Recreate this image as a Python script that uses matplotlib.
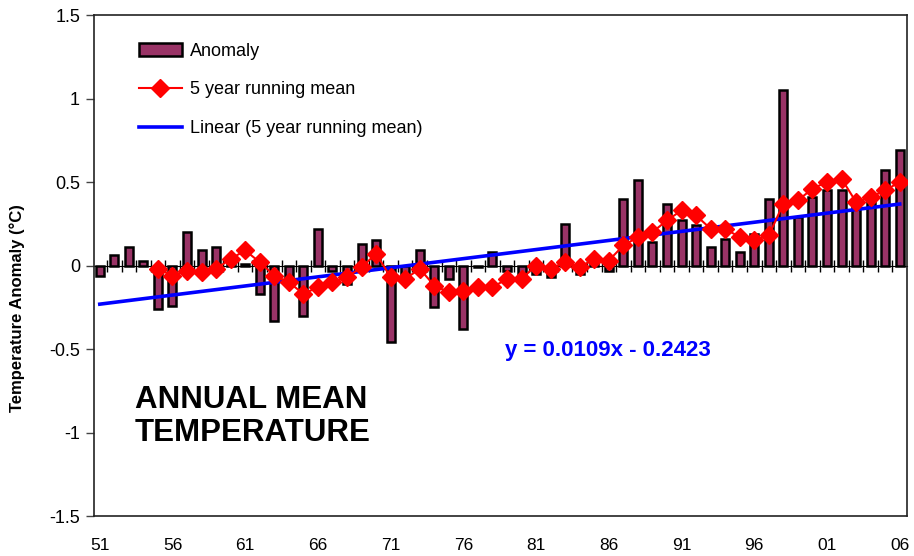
import matplotlib
matplotlib.use("Agg")
import matplotlib.pyplot as plt
import numpy as np

plt.rcParams['font.family'] = ['Liberation Sans', 'DejaVu Sans']

# years 1951 - 2006
years = np.arange(1951, 2007)

# annual temperature anomaly (degC)
anomaly = [-0.06, 0.06, 0.11, 0.03, -0.26, -0.24, 0.20, 0.09, 0.11, 0.02,
           0.01, -0.17, -0.33, -0.10, -0.30, 0.22, -0.03, -0.11, 0.13, 0.15,
           -0.46, -0.05, 0.09, -0.25, -0.08, -0.38, -0.01, 0.08, -0.03, -0.07,
           -0.05, -0.07, 0.25, -0.05, 0.02, -0.03, 0.40, 0.51, 0.14, 0.37,
           0.27, 0.24, 0.11, 0.16, 0.08, 0.19, 0.40, 1.05, 0.29, 0.41,
           0.45, 0.45, 0.39, 0.41, 0.57, 0.69]

# 5 year running mean, first value in 1955
mean_years = np.arange(1955, 2007)
running_mean = [-0.02, -0.06, -0.03, -0.04, -0.02, 0.04, 0.09, 0.02, -0.06, -0.10,
                -0.17, -0.13, -0.10, -0.07, -0.01, 0.07, -0.07, -0.08, -0.02, -0.12,
                -0.16, -0.15, -0.13, -0.13, -0.08, -0.08, 0.00, -0.02, 0.02, -0.01,
                0.04, 0.03, 0.12, 0.17, 0.20, 0.27, 0.33, 0.30, 0.22, 0.22,
                0.17, 0.15, 0.18, 0.37, 0.39, 0.46, 0.50, 0.52, 0.38, 0.41,
                0.45, 0.50]

# linear trend given on the chart (x = 1 for 1951)
slope = 0.0109
intercept = -0.2423

year_labels = ["51", "56", "61", "66", "71", "76", "81", "86", "91", "96", "01", "06"]

fig = plt.figure(figsize=(9.14, 5.56), dpi=100)
ax = fig.add_axes([0.1028, 0.0719, 0.8895, 0.9011])

bars = ax.bar(years, anomaly, width=0.55, color="#993366", edgecolor="black",
              linewidth=1.8, label="Anomaly", zorder=2)
mean_line, = ax.plot(mean_years, running_mean, color="red", lw=1.5, marker="D",
                     markersize=9, label="5 year running mean", zorder=4)
trend_x = np.arange(1, len(years) + 1)
trend_line, = ax.plot(years, slope * trend_x + intercept, color="#0000FF", lw=2.6,
                      label="Linear (5 year running mean)", zorder=3)

ax.set_xlim(1950.6, 2006.5)
ax.set_ylim(-1.5, 1.5)
ax.set_yticks([-1.5, -1, -0.5, 0, 0.5, 1, 1.5])
ax.set_yticklabels(["-1.5", "-1", "-0.5", "0", "0.5", "1", "1.5"], fontsize=13)
ax.tick_params(axis="y", length=6, width=1, pad=4, color="#444444")
ax.set_xticks(years[::5])
ax.set_xticklabels(year_labels, fontsize=12.5)
ax.tick_params(axis="x", length=0, pad=16)
for s in ax.spines.values():
    s.set_color("#222222")
    s.set_linewidth(1.2)

# category axis crossing at zero
zero_ax = ax.secondary_xaxis(0.5)
zero_ax.spines["bottom"].set_color("#808080")
zero_ax.spines["bottom"].set_linewidth(1.5)
zero_ax.set_xticks(years[:-1] + 0.5, labels=[""] * (len(years) - 1))
zero_ax.tick_params(axis="x", direction="inout", length=9, width=1,
                    color="black")

ax.legend([bars, mean_line, trend_line],
          ["Anomaly", "5 year running mean", "Linear (5 year running mean)"],
          loc="upper left", bbox_to_anchor=(0.055, 0.945), frameon=False,
          fontsize=13, handlelength=2.4, handletextpad=0.45, labelspacing=1.2,
          borderpad=0, borderaxespad=0)

ax.text(0.05, 0.262, "ANNUAL MEAN\nTEMPERATURE", transform=ax.transAxes,
        fontsize=22.5, fontweight="bold", ha="left", va="top", linespacing=1.15)
ax.text(0.506, 0.352, "y = 0.0109x - 0.2423", transform=ax.transAxes,
        fontsize=16, fontweight="bold", color="#0000FF", ha="left", va="top")

fig.text(0.019, 0.446, "Temperature Anomaly (°C)", rotation=90, fontsize=12,
         fontweight="bold", ha="center", va="center")

fig.savefig("out.png", dpi=100)
